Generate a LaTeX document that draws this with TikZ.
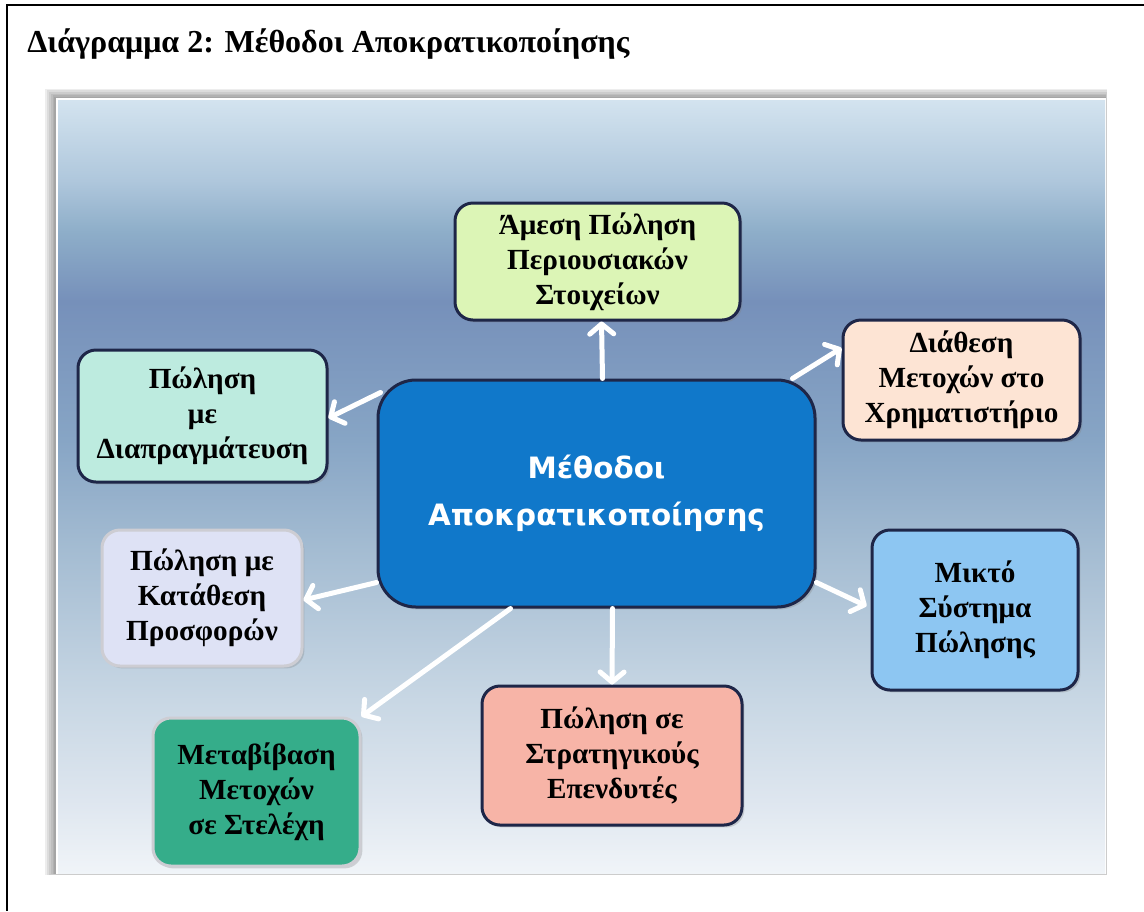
\documentclass[tikz,border=0pt]{standalone}
\usepackage{fontspec}
\setmainfont{Liberation Serif}
\newfontfamily\ctrfont{DejaVu Sans}
\usetikzlibrary{positioning,arrows.meta,shadows,calc}
\definecolor{navyrim}{HTML}{1E2648}
\definecolor{lightrim}{HTML}{CDCDD3}
\definecolor{ctrblue}{HTML}{1078CA}
\definecolor{greenbx}{HTML}{DCF5B6}
\definecolor{peachbx}{HTML}{FDE4D4}
\definecolor{mintbx}{HTML}{BDEBDF}
\definecolor{lavbx}{HTML}{DEE2F5}
\definecolor{skybx}{HTML}{8DC6F2}
\definecolor{salmonbx}{HTML}{F7B4A7}
\definecolor{tealbx}{HTML}{35AD8A}
% panel gradient, bottom to top
\definecolor{pg1}{HTML}{F0F4F8}
\definecolor{pg2}{HTML}{DEE6EF}
\definecolor{pg3}{HTML}{C8D7E4}
\definecolor{pg4}{HTML}{A4BCD2}
\definecolor{pg5}{HTML}{87A5C5}
\definecolor{pg6}{HTML}{7690BA}
\definecolor{pg7}{HTML}{8EAEC9}
\definecolor{pg8}{HTML}{AFC7DC}
\definecolor{pg9}{HTML}{D3E3EF}
\pgfdeclareverticalshading{panelshade}{100bp}{color(0bp)=(pg1); color(25bp)=(pg1);
  color(29.7bp)=(pg2); color(36.2bp)=(pg3); color(45.9bp)=(pg4); color(53bp)=(pg5);
  color(62bp)=(pg6); color(66.5bp)=(pg7); color(69.8bp)=(pg8); color(75bp)=(pg9);
  color(100bp)=(pg9)}

\begin{document}
\begin{tikzpicture}[
  x=0.5pt, y=-0.5pt,
  bx/.style={rounded corners=9pt, draw=navyrim, line width=1.5pt, align=center,
             inner sep=2pt, font=\fontsize{14.6}{17.5}\selectfont\bfseries,
             drop shadow={shadow xshift=1.2pt, shadow yshift=-1.2pt, opacity=0.3}},
  lbx/.style={bx, draw=lightrim},
  ctr/.style={bx, rounded corners=19pt, fill=ctrblue, text=white,
              font=\ctrfont\fontsize{14.7}{23.5}\selectfont\bfseries},
  arr/.style={-{Straight Barb[length=5pt,width=12pt,round]}, draw=white,
              line width=2.5pt, line cap=round},
]
\useasboundingbox (0,0) rectangle (1144,911);
% ---- Frame and title ----
\draw[line width=0.9pt] (1144,5) -- (7,5) -- (7,911);
\node[anchor=base west, inner sep=0pt, font=\fontsize{16}{19}\selectfont\bfseries] (title)
      at (27,52) {Διάγραμμα 2: Μέθοδοι Αποκρατικοποίησης};

% ---- Background panel with soft shadow ----
\foreach \i in {1,...,7}
  \fill[black, opacity=0.07] (58-1.8*\i,100-1.6*\i) rectangle (1105+0.3*\i,873+0.3*\i);
\fill[white] (56,98) rectangle (1106,874);
\shade[shading=panelshade] (58,100) rectangle (1105,873);

% ---- Nodes ----
\node[ctr, minimum width=218.5pt, minimum height=113.5pt] (mc) at (596.5,493.5)
      {Μέθοδοι\\Αποκρατικοποίησης};
\node[bx, fill=greenbx, minimum width=142.5pt, minimum height=58.5pt] (amesi) at (597.5,261.5)
      {Άμεση Πώληση\\Περιουσιακών\\Στοιχείων};
\node[bx, fill=peachbx, minimum width=118.5pt, minimum height=60pt] (diath) at (961.5,380)
      {Διάθεση\\Μετοχών στο\\Χρηματιστήριο};
\node[bx, fill=mintbx, minimum width=124.5pt, minimum height=66pt] (diapr) at (202.5,416)
      {Πώληση\\με\\Διαπραγμάτευση};
\node[lbx, fill=lavbx, minimum width=100pt, minimum height=68pt] (katath) at (202,598)
      {Πώληση με\\Κατάθεση\\Προσφορών};
\node[bx, fill=skybx, minimum width=103pt, minimum height=80pt] (mikto) at (975,610)
      {Μικτό\\Σύστημα\\Πώλησης};
\node[bx, fill=salmonbx, minimum width=130pt, minimum height=69.5pt] (strat) at (612,755.5)
      {Πώληση σε\\Στρατηγικούς\\Επενδυτές};
\node[lbx, fill=tealbx, minimum width=103.5pt, minimum height=74pt] (metav) at (256.5,792)
      {Μεταβίβαση\\Μετοχών\\σε Στελέχη};

% ---- Arrows out of the centre ----
\draw[arr] ([xshift=3pt]mc.north) -- ([xshift=2pt]amesi.south);
\draw[arr] ([xshift=-12pt]mc.north east) -- ([yshift=16pt]diath.west);
\draw[arr] ([shift={(2pt,-7pt)}]mc.north west) -- ([yshift=-1pt]diapr.east);
\draw[arr] ([yshift=13pt]mc.south west) -- ([yshift=-1pt]katath.east);
\draw[arr] ([yshift=13pt]mc.south east) -- ([shift={(-2pt,2pt)}]mikto.west);
\draw[arr] ([xshift=8pt]mc.south) -- (strat.north);
\draw[arr] ([xshift=-43pt]mc.south) -- (metav.north east);
\end{tikzpicture}
\end{document}
